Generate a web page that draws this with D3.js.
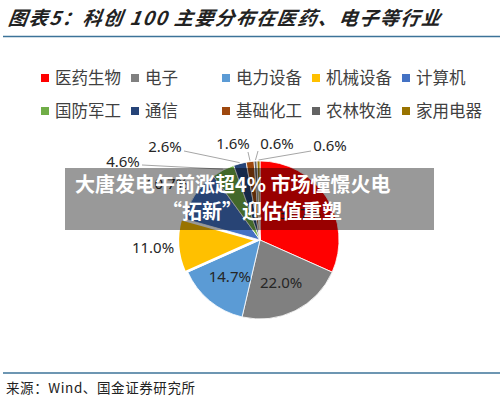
<!DOCTYPE html>
<html>
<head>
<meta charset="utf-8">
<script src="https://cdn.jsdelivr.net/npm/d3@7"></script>
<style>
  body { margin: 0; background: #fff; }
  svg { display: block; }
</style>
</head>
<body>
<svg width="500" height="400"></svg>
<script>
// data
var categories = ["医药生物", "电子", "电力设备", "机械设备", "计算机",
                  "国防军工", "通信", "基础化工", "农林牧渔", "家用电器"];
var shares = [31.7, 22.0, 14.7, 11.0, 10.7, 4.6, 2.6, 1.6, 0.6, 0.6];
var colors = ["#ff0000", "#808080", "#5b9bd5", "#ffc000", "#4472c4",
              "#70ad47", "#264478", "#9e480e", "#636363", "#997300"];

var title = "图表5：科创 100 主要分布在医药、电子等行业";
var source = "来源：Wind、国金证券研究所";
var banner = ["大唐发电午前涨超4% 市场憧憬火电", "“拓新”迎估值重塑"];

// layout
var cx = 260, cy = 240, R = 79;
var legendCols = [55, 145, 236, 326, 416];
var legendRows = [78, 111];
// outside labels: [label x, label y, leader start x, leader start y]
var outside = {
  3: [153, 248, null, null],
  4: [167, 184, null, null],
  5: [123, 162, 142, 165],
  6: [165, 147, 184, 151],
  7: [233, 144, 248, 152],
  8: [277, 144, 258, 151],
  9: [330, 146, 311, 151]
};

var svg = d3.select("svg");

// title
svg.append("text")
  .attr("x", 8).attr("y", 25)
  .attr("font-family", "'Noto Sans CJK SC', sans-serif")
  .attr("font-size", 19)
  .attr("font-weight", "bold")
  .attr("font-style", "italic")
  .attr("letter-spacing", 1.6)
  .attr("fill", "#222")
  .attr("transform", "skewX(-8) translate(3,0)")
  .text(title);

svg.append("line")
  .attr("x1", 3).attr("x2", 500).attr("y1", 36.5).attr("y2", 36.5)
  .attr("stroke", "#3c7399").attr("stroke-width", 1.6);

// legend
var legend = svg.append("g").selectAll("g")
  .data(categories)
  .enter().append("g")
  .attr("transform", (d, i) => "translate(" + legendCols[i % 5] + "," + legendRows[Math.floor(i / 5)] + ")");

legend.append("rect")
  .attr("x", -14).attr("y", -4)
  .attr("width", 8).attr("height", 8)
  .attr("fill", (d, i) => colors[i]);

legend.append("text")
  .attr("x", 0).attr("y", 6)
  .attr("font-family", "'Noto Sans CJK SC', sans-serif")
  .attr("font-size", 16.5)
  .attr("fill", "#404040")
  .text(d => d);

// pie
var pie = d3.pie().sort(null).value(d => d);
var arcs = pie(shares);
var arc = d3.arc().innerRadius(0).outerRadius(R);
var labelArc = d3.arc().innerRadius(R * 0.6).outerRadius(R * 0.6);
var edgeArc = d3.arc().innerRadius(R + 1).outerRadius(R + 1);

var pieG = svg.append("g").attr("transform", "translate(" + cx + "," + cy + ")");

pieG.selectAll("path")
  .data(arcs)
  .enter().append("path")
  .attr("d", arc)
  .attr("fill", (d, i) => colors[i])
  .attr("stroke", "#fff")
  .attr("stroke-width", (d, i) => i == 3 ? 2.5 : 0.8)
  .attr("transform", function (d, i) {
    if (i != 3) return null;
    var a = (d.startAngle + d.endAngle) / 2;
    return "translate(" + (Math.sin(a) * 3) + "," + (-Math.cos(a) * 3) + ")";
  });

// leader lines
pieG.selectAll("line.leader")
  .data(arcs.filter((d, i) => outside[i] && outside[i][2] != null))
  .enter().append("line")
  .attr("class", "leader")
  .attr("x1", d => outside[d.index][2] - cx)
  .attr("y1", d => outside[d.index][3] - cy)
  .attr("x2", d => edgeArc.centroid(d)[0])
  .attr("y2", d => edgeArc.centroid(d)[1])
  .attr("stroke", "#a6a6a6")
  .attr("stroke-width", 1);

// value labels
pieG.selectAll("text")
  .data(arcs)
  .enter().append("text")
  .attr("x", d => outside[d.index] ? outside[d.index][0] - cx : labelArc.centroid(d)[0])
  .attr("y", d => outside[d.index] ? outside[d.index][1] - cy : labelArc.centroid(d)[1])
  .attr("dy", "0.35em")
  .attr("text-anchor", "middle")
  .attr("font-family", "'Noto Sans', sans-serif")
  .attr("font-size", 15)
  .attr("fill", "#262626")
  .text(d => d.data.toFixed(1) + "%");

// source
svg.append("line")
  .attr("x1", 3).attr("x2", 500).attr("y1", 373).attr("y2", 373)
  .attr("stroke", "#3c7399").attr("stroke-width", 1.6);

svg.append("text")
  .attr("x", 6).attr("y", 393)
  .attr("font-family", "'Noto Sans CJK SC', sans-serif")
  .attr("font-size", 13.5)
  .attr("letter-spacing", 0.6)
  .attr("fill", "#222")
  .text(source);

// banner overlay
svg.append("rect")
  .attr("x", 65).attr("y", 168)
  .attr("width", 369).attr("height", 62)
  .attr("fill", "rgba(0,0,0,0.4)");

svg.append("g").selectAll("text")
  .data(banner)
  .enter().append("text")
  .attr("x", (d, i) => i == 0 ? 75 : 162)
  .attr("y", (d, i) => 192 + i * 27)
  .attr("font-family", "'Noto Sans CJK SC', sans-serif")
  .attr("font-size", 20)
  .attr("font-weight", "bold")
  .attr("fill", "#fff")
  .text(d => d);
</script>
</body>
</html>
